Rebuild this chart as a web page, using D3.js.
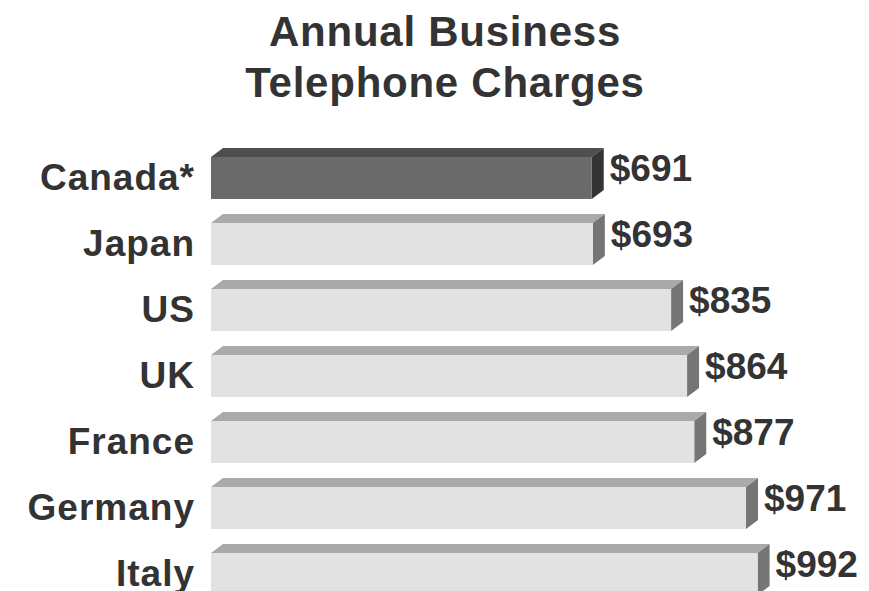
<!DOCTYPE html>
<html>
<head>
<meta charset="utf-8">
<script src="https://cdn.jsdelivr.net/npm/d3@7"></script>
<style>
    body { margin: 0; background: #fff; }
    text { font-family: 'Liberation Sans', Arial, sans-serif; font-weight: bold; fill: #333; }
</style>
</head>
<body>
<div id="chart"></div>
<script>
let categories = ['Canada*', 'Japan', 'US', 'UK', 'France', 'Germany', 'Italy'];
let charges    = [691, 693, 835, 864, 877, 971, 992];
let highlight  = ['Canada*'];
let titleLines = ['Annual Business', 'Telephone Charges'];

let chart_width  = 869;
let chart_height = 591;
let depth_x = 12, depth_y = 9;

let data = categories.map(function(c, i) {
    return { name: c, value: charges[i] };
});

let svg = d3.select('#chart')
    .append('svg')
    .attr('width', chart_width)
    .attr('height', chart_height);

// Scales
let xScale = d3.scaleLinear()
    .domain([0, 1000])
    .range([211, 762]);

let yScale = d3.scaleBand()
    .domain(categories)
    .range([157, 595])
    .paddingInner(0.364)
    .paddingOuter(0);

// Title
svg.append('g')
    .selectAll('text')
    .data(titleLines)
    .enter()
    .append('text')
    .attr('x', 445)
    .attr('y', (d, i) => 46 + i * 51)
    .attr('text-anchor', 'middle')
    .style('font-size', '42px')
    .style('letter-spacing', '0.75px')
    .text(d => d);

// 3D bars: top face, side face, front face
let bars = svg.append('g')
    .selectAll('g')
    .data(data)
    .enter()
    .append('g');

function isHi(d) { return highlight.indexOf(d.name) >= 0; }

bars.append('polygon')
    .attr('points', function(d) {
        let x0 = xScale(0), x1 = xScale(d.value), y0 = yScale(d.name);
        return [[x0, y0], [x0 + depth_x, y0 - depth_y], [x1 + depth_x, y0 - depth_y], [x1, y0]].join(' ');
    })
    .attr('fill', d => isHi(d) ? '#4e4e4e' : '#aaaaaa');

bars.append('polygon')
    .attr('points', function(d) {
        let x1 = xScale(d.value), y0 = yScale(d.name), y1 = y0 + yScale.bandwidth();
        return [[x1, y0], [x1 + depth_x, y0 - depth_y], [x1 + depth_x, y1 - depth_y], [x1, y1]].join(' ');
    })
    .attr('fill', d => isHi(d) ? '#343434' : '#757575');

bars.append('rect')
    .attr('x', xScale(0))
    .attr('y', d => yScale(d.name))
    .attr('width', d => xScale(d.value) - xScale(0))
    .attr('height', yScale.bandwidth())
    .attr('fill', d => isHi(d) ? '#6a6a6a' : '#e2e2e2');

// Value labels
bars.append('text')
    .attr('x', d => xScale(d.value) + 18)
    .attr('y', d => yScale(d.name) + yScale.bandwidth() / 2 + 3)
    .style('font-size', '37px')
    .text(d => '$' + d.value);

// Category labels
svg.append('g')
    .selectAll('text')
    .data(categories)
    .enter()
    .append('text')
    .attr('x', 195)
    .attr('y', d => yScale(d) + yScale.bandwidth() / 2 + 12)
    .attr('text-anchor', 'end')
    .style('font-size', '37px')
    .style('letter-spacing', '1px')
    .text(d => d);
</script>
</body>
</html>
